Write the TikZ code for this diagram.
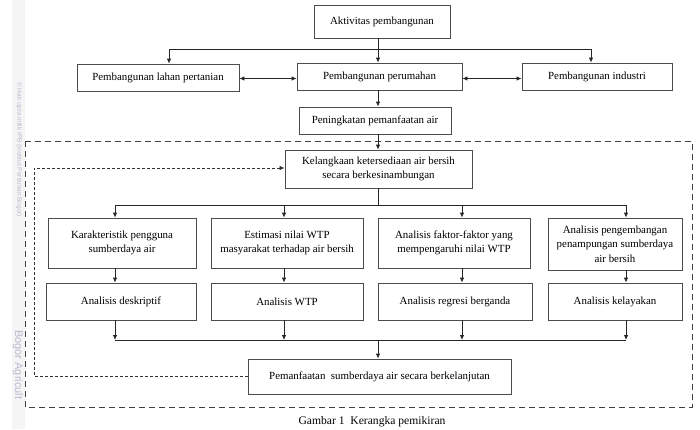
\documentclass[tikz,border=0pt]{standalone}
\usepackage{fontspec}
\setmainfont{Liberation Serif}
\newfontfamily\wmfont{Liberation Sans}
\usetikzlibrary{arrows.meta}
\tikzset{
  box/.style={draw=black!70, line width=0.8pt, rectangle, inner sep=0pt, align=center,
    font=\fontsize{10.9}{14.5}\selectfont, text=black},
  conn/.style={draw=black!85, line width=0.8pt},
  arr/.style={conn, -{Latex[length=5pt,width=4.5pt]}},
  darr/.style={conn, {Latex[length=5pt,width=4.5pt]}-{Latex[length=5pt,width=4.5pt]}},
  outerdash/.style={draw=black!75, line width=0.8pt, dash pattern=on 6pt off 4pt},
  innerdash/.style={draw=black!80, line width=0.7pt, dash pattern=on 3pt off 2pt},
  wm/.style={text=blue!20!gray!45, font=\wmfont\fontsize{6.5}{7}\selectfont, rotate=-90, inner sep=0pt}
}
\begin{document}
\begin{tikzpicture}[x=1pt,y=-1pt]
\useasboundingbox (0,0) rectangle (700,429);
% watermark band
\fill[black!4] (12,0) rectangle (25,429);
\node[wm, anchor=west] (wm1) at (19,82) {\textcopyright\ Hak cipta milik IPB (Institut Pertanian Bogor)};
\node[wm, font=\wmfont\fontsize{11}{12}\selectfont, anchor=west] (wm2) at (18,330) {Bogor Agricult};

% nodes
\node[box, minimum width=136pt, minimum height=33pt] (akt) at (382,21.5) {Aktivitas pembangunan};
\node[box, minimum width=162pt, minimum height=27pt] (lahan) at (158,77.5) {Pembangunan lahan pertanian};
\node[box, minimum width=165pt, minimum height=27pt] (rumah) at (379.5,76.5) {Pembangunan perumahan};
\node[box, minimum width=150pt, minimum height=27pt] (ind) at (597,76.5) {Pembangunan industri};
\node[box, minimum width=152pt, minimum height=27pt] (ning) at (375,120.5) {Peningkatan pemanfaatan air};
\node[box, minimum width=187pt, minimum height=38pt] (langka) at (378.5,169) {Kelangkaan ketersediaan air bersih\\secara berkesinambungan};
\node[box, minimum width=148pt, minimum height=50pt] (kar) at (122,243) {Karakteristik pengguna\\sumberdaya air};
\node[box, minimum width=152pt, minimum height=50pt] (est) at (287,243) {Estimasi nilai WTP\\masyarakat terhadap air bersih};
\node[box, minimum width=152pt, minimum height=50pt] (fak) at (454,243) {Analisis faktor-faktor yang\\mempengaruhi nilai WTP};
\node[box, minimum width=134pt, minimum height=52pt] (peng) at (615,244) {Analisis pengembangan\\penampungan sumberdaya\\air bersih};
\node[box, minimum width=150pt, minimum height=37pt] (des) at (121,301.5) {Analisis deskriptif};
\node[box, minimum width=152pt, minimum height=37pt] (wtp) at (287,301.5) {Analisis WTP};
\node[box, minimum width=154pt, minimum height=37pt] (reg) at (455,301.5) {Analisis regresi berganda};
\node[box, minimum width=134pt, minimum height=37pt] (lay) at (615,301.5) {Analisis kelayakan};
\node[box, minimum width=263pt, minimum height=35pt] (manf) at (379.5,376.5) {Pemanfaatan\ \ sumberdaya air secara berkelanjutan};
\node[font=\fontsize{11.6}{12}\selectfont, inner sep=0pt] (cap) at (372,421.5) {Gambar 1\ \ Kerangka pemikiran};

% outer dashed frame
\draw[outerdash] (25,141) rectangle (692,407);

% top distribution
\coordinate (t0) at (378,49);
\coordinate (tl) at (169,49);
\coordinate (tr) at (591,49);
\draw[conn] (akt.south -| t0) -- (t0);
\draw[conn] (tl) -- (tr);
\draw[arr] (tl) -- (tl |- lahan.north);
\draw[arr] (tr) -- (tr |- ind.north);
\draw[arr] (t0) -- (t0 |- rumah.north);
\coordinate (ly) at (0,78.5);
\draw[darr] (lahan.east |- ly) -- (rumah.west |- ly);
\draw[darr] (rumah.east |- ly) -- (ind.west |- ly);
\draw[arr] (rumah.south -| t0) -- (ning.north -| t0);
\draw[arr] (ning.south -| t0) -- (langka.north -| t0);

% second distribution
\coordinate (m0) at (378,205);
\coordinate (m1) at (115,205);
\coordinate (m2) at (284,205);
\coordinate (m3) at (462,205);
\coordinate (m4) at (626,205);
\draw[conn] (langka.south -| m0) -- (m0);
\draw[conn] (m1) -- (m4);
\draw[arr] (m1) -- (m1 |- kar.north);
\draw[arr] (m2) -- (m2 |- est.north);
\draw[arr] (m3) -- (m3 |- fak.north);
\draw[arr] (m4) -- (m4 |- peng.north);
\draw[arr] (kar.south -| m1) -- (des.north -| m1);
\draw[arr] (est.south -| m2) -- (wtp.north -| m2);
\draw[arr] (fak.south -| m3) -- (reg.north -| m3);
\draw[arr] (peng.south -| m4) -- (lay.north -| m4);

% collection
\coordinate (b0) at (378,340);
\coordinate (b1) at (115,340);
\coordinate (b2) at (284,340);
\coordinate (b3) at (462,340);
\coordinate (b4) at (626,340);
\draw[conn] (b1) -- (b4);
\draw[arr] (des.south -| b1) -- (b1);
\draw[arr] (wtp.south -| b2) -- (b2);
\draw[arr] (reg.south -| b3) -- (b3);
\draw[arr] (lay.south -| b4) -- (b4);
\draw[arr] (b0) -- (manf.north -| b0);

% feedback dashed loop
\coordinate (fb1) at (34,376);
\coordinate (fb2) at (34,168);
\draw[innerdash, -{Latex[length=5pt,width=4.5pt]}] (manf.west |- fb1) -- (fb1) -- (fb2) -- (langka.west |- fb2);
\end{tikzpicture}
\end{document}
